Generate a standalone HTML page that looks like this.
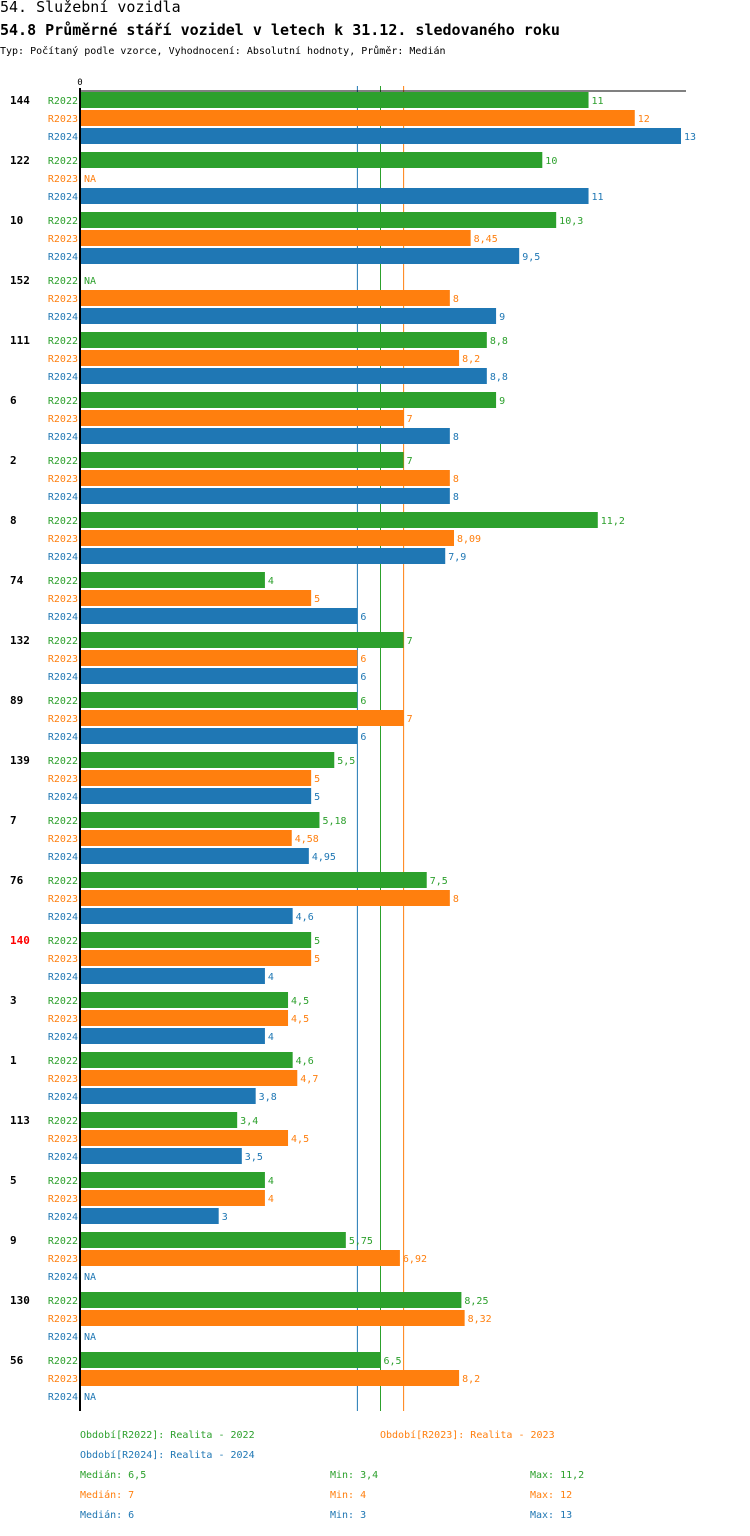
<!DOCTYPE html>
<html><head><meta charset="utf-8">
<style>
body{margin:0;background:#fff;width:750px;height:1532px;overflow:hidden;font-family:"DejaVu Sans Mono","Liberation Mono",monospace;}
svg text{font-family:"DejaVu Sans Mono","Liberation Mono",monospace;}
</style></head>
<body>
<svg id="chart" width="750" height="1532" xmlns="http://www.w3.org/2000/svg">
<text x="0" y="12" font-size="15" fill="#000">54. Služební vozidla</text>
<text x="0" y="35" font-size="15" font-weight="bold" fill="#000">54.8 Průměrné stáří vozidel v letech k 31.12. sledovaného roku</text>
<text x="0" y="54" font-size="10" fill="#000">Typ: Počítaný podle vzorce, Vyhodnocení: Absolutní hodnoty, Průměr: Medián</text>
<text x="80" y="85" font-size="9" text-anchor="middle">0</text>
<g id="medians"></g>
<g id="bars"></g>
<g id="legend"></g>
</svg>
<script>
const categories=["144","122","10","152","111","6","2","8","74","132","89","139","7","76","140","3","1","113","5","9","130","56"];
const r2022=[11,10,10.3,null,8.8,9,7,11.2,4,7,6,5.5,5.18,7.5,5,4.5,4.6,3.4,4,5.75,8.25,6.5];
const r2023=[12,null,8.45,8,8.2,7,8,8.09,5,6,7,5,4.58,8,5,4.5,4.7,4.5,4,6.92,8.32,8.2];
const r2024=[13,11,9.5,9,8.8,8,8,7.9,6,6,6,5,4.95,4.6,4,4,3.8,3.5,3,null,null,null];
const seriesNames=["R2022","R2023","R2024"];
const colors=["#2ca02c","#ff7f0e","#1f77b4"];
const medians=[6.5,7,6];
const mins=[3.4,4,3];
const maxs=[11.2,12,13];
const highlighted=["140"];

const NS="http://www.w3.org/2000/svg";
const x0=80, scale=(681-80)/13;
const xs=v=>x0+v*scale;
const top0=92, groupH=60, rowH=18, barH=16;
const fmt=v=>String(v).replace('.',',');
const g=document.getElementById('bars');
const mg=document.getElementById('medians');
function mk(tag,attrs,parent){const e=document.createElementNS(NS,tag);for(const k in attrs)e.setAttribute(k,attrs[k]);(parent||g).appendChild(e);return e;}
const all=[r2022,r2023,r2024];
const bottom=top0+categories.length*groupH-1;
medians.forEach((m,j)=>{
  const ln=mk('line',{x1:xs(m),x2:xs(m),y1:86,y2:bottom,stroke:colors[j],'stroke-width':1},mg);
  
  
});
categories.forEach((c,i)=>{
  const gy=top0+i*groupH;
  const t=mk('text',{x:10,y:gy+12,'font-size':11,'font-weight':'bold',fill:highlighted.includes(c)?'#ff0000':'#000'});
  t.textContent=c;
  
  
  all.forEach((s,j)=>{
    const y=gy+j*rowH;
    const l=mk('text',{x:78,y:y+12,'font-size':10,fill:colors[j],'text-anchor':'end'});
    l.textContent=seriesNames[j];
    
    
    const v=s[i];
    if(v===null){
      const n=mk('text',{x:84,y:y+12,'font-size':10,fill:colors[j]});
      n.textContent='NA';
      
      
      return;
    }
    const r=mk('rect',{x:x0,y:y,width:xs(v)-x0,height:barH,fill:colors[j]});
    
    
    const vl=mk('text',{x:xs(v)+3,y:y+12,'font-size':10,fill:colors[j]});
    vl.textContent=fmt(v);
    
    
  });
});
const ax=mk('line',{x1:x0,x2:x0,y1:88,y2:bottom,stroke:'#000','stroke-width':2});


const tx=mk('line',{x1:x0,x2:686,y1:91,y2:91,stroke:'#000','stroke-width':1});



const lg=document.getElementById('legend');
function lt(x,y,txt,col,name){const e=mk('text',{x:x,y:y,'font-size':10,fill:col},lg);e.textContent=txt;}
lt(80,1438,'Období[R2022]: Realita - 2022',colors[0],'legend-entry');
lt(380,1438,'Období[R2023]: Realita - 2023',colors[1],'legend-entry');
lt(80,1458,'Období[R2024]: Realita - 2024',colors[2],'legend-entry');
for(let j=0;j<3;j++){
  const y=1478+j*20;
  lt(80,y,'Medián: '+fmt(medians[j]),colors[j],'median-stat');
  lt(330,y,'Min: '+fmt(mins[j]),colors[j],'min-stat');
  lt(530,y,'Max: '+fmt(maxs[j]),colors[j],'max-stat');
}
</script>
</body></html>
